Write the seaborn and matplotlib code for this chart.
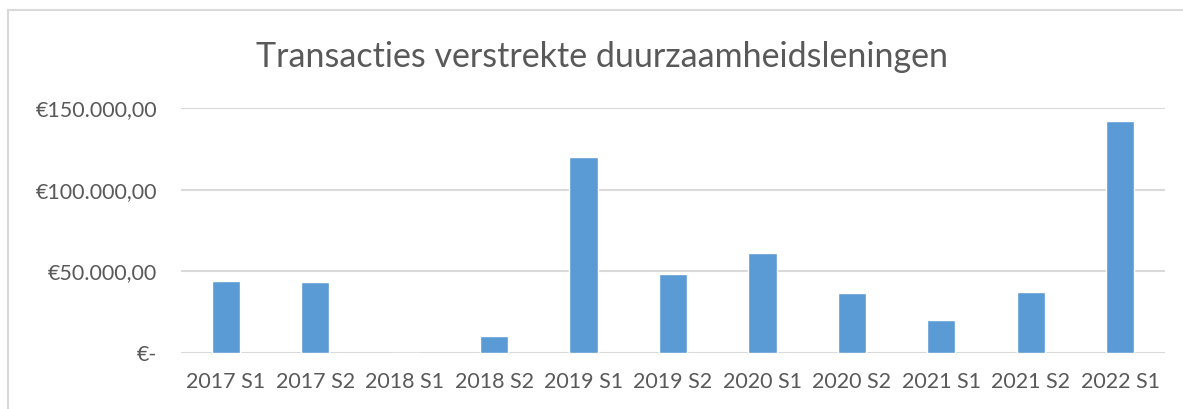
import numpy as np
import pandas as pd
import seaborn as sns
import matplotlib.pyplot as plt
from matplotlib.lines import Line2D

# gegevens
periodes = ['2017 S1', '2017 S2', '2018 S1', '2018 S2', '2019 S1', '2019 S2',
            '2020 S1', '2020 S2', '2021 S1', '2021 S2', '2022 S1']
bedragen = [44300, 43300, 0, 10600, 119800, 48200,
            61400, 36500, 20000, 37100, 141800]
y_ticks = [0, 50000, 100000, 150000]
y_labels = ['€-', '€50.000,00', '€100.000,00', '€150.000,00']

df = pd.DataFrame({'periode': periodes, 'bedrag': bedragen})

sns.set_style('white')
plt.rcParams['font.family'] = ['Lato', 'DejaVu Sans']

fig = plt.figure(figsize=(11.83, 4.09), dpi=100)
ax = fig.add_axes([181 / 1183, 1 - 353 / 409, (1165 - 181) / 1183, (353 - 108) / 409])

"""staafdiagram"""
sns.barplot(data=df, x='periode', y='bedrag', color='#5B9BD5', saturation=1,
            width=0.315, ax=ax, zorder=3)

ax.set_ylim(0, 150000)
ax.set_xlim(-0.5, len(periodes) - 0.5)
ax.set_yticks(y_ticks)
ax.set_yticklabels(y_labels)
ax.yaxis.grid(True, color='#D9D9D9', linewidth=1.5, zorder=0)
ax.set_axisbelow(True)
for s in ax.spines.values():
    s.set_visible(False)
ax.tick_params(axis='both', length=0, colors='#595959', labelsize=15.5)
ax.tick_params(axis='y', pad=17)
ax.tick_params(axis='x', pad=14)
ax.set_xlabel('')
ax.set_ylabel('')

# titel
fig.text(602 / 1183, 1 - 57 / 409, 'Transacties verstrekte duurzaamheidsleningen',
         ha='center', va='center', fontsize=24.5, color='#595959')

# rand om de grafiek
fig.add_artist(Line2D([8 / 1183, 1], [1 - 10 / 409, 1 - 10 / 409],
                      transform=fig.transFigure, color='#D9D9D9', linewidth=1.5))
fig.add_artist(Line2D([8 / 1183, 8 / 1183], [0, 1 - 10 / 409],
                      transform=fig.transFigure, color='#D9D9D9', linewidth=1.5))

plt.savefig('out.png', dpi=100)
